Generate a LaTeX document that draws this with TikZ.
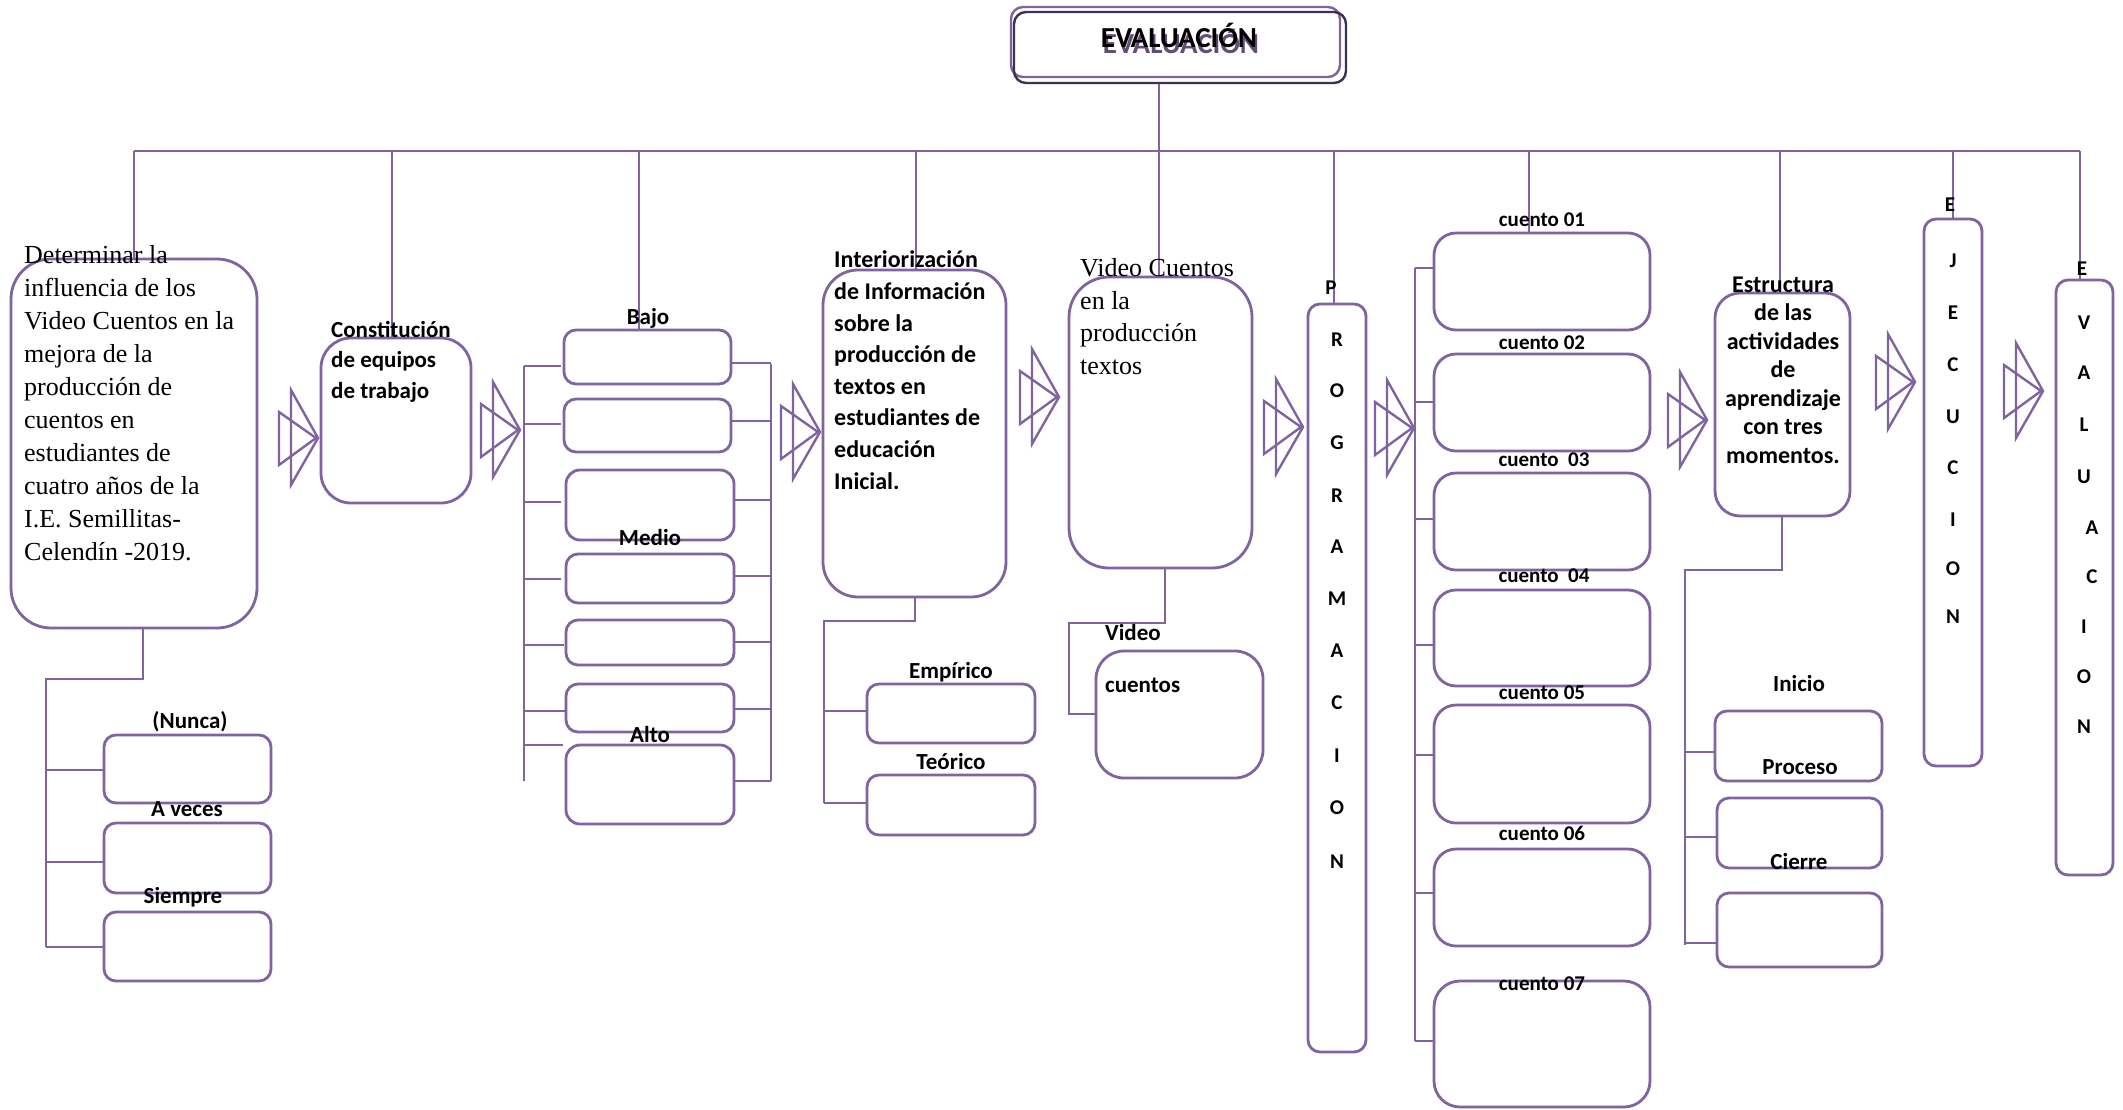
\documentclass[tikz,border=0pt]{standalone}
\usepackage{fontspec}
\setmainfont{Carlito}
\newfontfamily\tnr{Liberation Serif}
\usetikzlibrary{fit}
\definecolor{pur}{RGB}{128,100,162}
\definecolor{dpur}{RGB}{63,49,81}
\definecolor{shad}{RGB}{96,78,118}
\tikzset{
  ln/.style={draw=pur, line width=2.4pt},
  bx/.style={draw=pur, line width=2.8pt, inner sep=0pt, rounded corners=#1},
  bx/.default=12pt,
  lbl/.style={inner sep=0pt, font=\fontsize{23}{28}\selectfont\bfseries, anchor=base},
  clbl/.style={inner sep=0pt, font=\fontsize{21}{26}\selectfont\bfseries, anchor=base},
  vl/.style={inner sep=0pt, font=\fontsize{21}{25}\selectfont\bfseries},
  dtri/.pic={
    \draw[pur, line width=2.4pt] (-27,-48) -- (-27,47) -- (0,0) -- cycle;
    \draw[pur, line width=2.4pt] (-39,-26) -- (-39,27) -- (-2,0) -- cycle;}
}
\begin{document}
\begin{tikzpicture}[x=1pt,y=-1pt]
\fill[white] (0,0) rectangle (2123,1109);
\useasboundingbox (0,0) rectangle (2123,1109);

% title
\node[draw=pur, line width=2.4pt, rounded corners=12pt, inner sep=0pt, fit={(1011,7) (1340,77)}] (top1) {};
\node[draw=dpur, line width=2.4pt, rounded corners=12pt, inner sep=0pt, fit={(1014,12) (1346,83)}] (top) {};
\node[inner sep=0pt, anchor=base, text=shad, font=\fontsize{29}{34}\selectfont\bfseries] (titsh) at (1181,53) {EVALUACIÓN};
\node[inner sep=0pt, anchor=base, font=\fontsize{29}{34}\selectfont\bfseries] (tit) at (1179,47) {EVALUACIÓN};

% main boxes
\node[bx=40pt, fit={(11,259) (257,628)}] (det) {};
\node[bx=30pt, fit={(321,338) (471,503)}] (con) {};
\node[bx=12pt, fit={(564,330) (731,384)}] (b1) {};
\node[bx=12pt, fit={(564,399) (731,452)}] (b2) {};
\node[bx=14pt, fit={(566,470) (734,540)}] (b3) {};
\node[bx=12pt, fit={(566,554) (734,603)}] (b4) {};
\node[bx=12pt, fit={(566,620) (734,665)}] (b5) {};
\node[bx=12pt, fit={(566,684) (734,732)}] (b6) {};
\node[bx=14pt, fit={(566,745) (734,824)}] (b7) {};
\node[bx=35pt, fit={(823,270) (1006,597)}] (int) {};
\node[bx=12pt, fit={(867,684) (1035,743)}] (emp) {};
\node[bx=12pt, fit={(867,775) (1035,835)}] (teo) {};
\node[bx=40pt, fit={(1069,277) (1252,568)}] (vc) {};
\node[bx=28pt, fit={(1096,651) (1263,778)}] (vcs) {};
\node[bx=12pt, fit={(1308,304) (1366,1052)}] (prog) {};
\node[bx=22pt, fit={(1434,233) (1650,330)}] (c1) {};
\node[bx=22pt, fit={(1434,354) (1650,451)}] (c2) {};
\node[bx=22pt, fit={(1434,473) (1650,570)}] (c3) {};
\node[bx=22pt, fit={(1434,590) (1650,686)}] (c4) {};
\node[bx=22pt, fit={(1434,705) (1650,823)}] (c5) {};
\node[bx=22pt, fit={(1434,849) (1650,946)}] (c6) {};
\node[bx=26pt, fit={(1434,981) (1650,1107)}] (c7) {};
\node[bx=25pt, fit={(1715,293) (1850,516)}] (est) {};
\node[bx=12pt, fit={(1715,711) (1882,781)}] (ini) {};
\node[bx=12pt, fit={(1717,798) (1882,868)}] (pro) {};
\node[bx=12pt, fit={(1717,893) (1882,967)}] (cie) {};
\node[bx=12pt, fit={(1924,219) (1982,766)}] (eje) {};
\node[bx=12pt, fit={(2056,280) (2113,875)}] (eva) {};
\node[bx=12pt, fit={(104,735) (271,803)}] (nun) {};
\node[bx=12pt, fit={(104,823) (271,893)}] (ave) {};
\node[bx=12pt, fit={(104,912) (271,981)}] (sie) {};

% trunk
\coordinate (tl) at (134,151);
\coordinate (tr) at (2080,151);
\draw[ln] (top.south -| 1159,0) -- (1159,151);
\draw[ln] (tl) -- (tr);
\foreach \x/\n in {134/det, 392/con, 639/b1, 916/int, 1159/vc, 1334/prog, 1529/c1, 1780/est, 1953/eje, 2080/eva}
  \draw[ln] (\x,151) -- (\x,151 |- \n.north);

% determinar branches
\draw[ln] (det.south -| 143,0) -- (143,679) -- (46,679) -- (46,947);
\foreach \y/\n in {770/nun, 862/ave, 947/sie}
  \draw[ln] (46,\y) -- (\n.west |- 46,\y);

% bajo/medio/alto buses
\draw[ln] (524,366) -- (524,781);
\foreach \y/\xe in {366/561, 424/561, 502/561, 579/561, 645/564, 711/566, 745/563}
  \draw[ln] (524,\y) -- (\xe,\y);
\draw[ln] (771,364) -- (771,781);
\foreach \y/\n in {363/b1, 421/b2, 500/b3, 576/b4, 642/b5, 709/b6, 781/b7}
  \draw[ln] (\n.east |- 0,\y) -- (771,\y);

% interiorizacion branches
\draw[ln] (int.south -| 915,0) -- (915,621) -- (824,621) -- (824,803);
\draw[ln] (824,711) -- (emp.west |- 0,711);
\draw[ln] (824,803) -- (teo.west |- 0,803);

% video cuentos branch
\draw[ln] (vc.south -| 1165,0) -- (1165,623) -- (1069,623) -- (1069,714) -- (vcs.west |- 0,714);

% cuentos bus
\draw[ln] (1415,268) -- (1415,1041);
\foreach \y/\n in {268/c1, 402/c2, 519/c3, 645/c4, 755/c5, 893/c6, 1041/c7}
  \draw[ln] (1415,\y) -- (\n.west |- 0,\y);

% estructura branches
\draw[ln] (est.south -| 1782,0) -- (1782,570) -- (1685,570) -- (1685,945);
\foreach \y/\n in {752/ini, 837/pro, 943/cie}
  \draw[ln] (1685,\y) -- (\n.west |- 0,\y);

% double triangle arrows
\foreach \ax/\ay [count=\i] in {318/438, 520/430, 820/432, 1059/397, 1303/427, 1414/428, 1707/420, 1915/382, 2043/391}
  \pic (ar\i) at (\ax,\ay) {dtri};

% texts (anchor = baseline of the last line)
\node[anchor=base west, inner sep=0pt, align=left, font=\tnr\fontsize{26}{33}\selectfont] (dett) at (24,560)
  {Determinar la\\influencia de los\\Video Cuentos en la\\mejora de la\\producción de\\cuentos en\\estudiantes de\\cuatro años de la\\I.E. Semillitas-\\Celendín -2019.};
\node[anchor=base west, inner sep=0pt, align=left, font=\fontsize{23}{30.5}\selectfont\bfseries] (cont) at (331,398)
  {Constitución\\de equipos\\de trabajo};
\node[anchor=base west, inner sep=0pt, align=left, font=\fontsize{24}{31.6}\selectfont\bfseries] (intt) at (834,489)
  {Interiorización\\de Información\\sobre la\\producción de\\textos en\\estudiantes de\\educación\\Inicial.};
\node[anchor=base west, inner sep=0pt, align=left, font=\tnr\fontsize{26}{32.4}\selectfont] (vct) at (1080,374)
  {Video Cuentos\\en la\\producción\\textos};
\node[anchor=base west, inner sep=0pt, align=left, font=\fontsize{23}{52}\selectfont\bfseries] (vcst) at (1105,692)
  {Video\\cuentos};
\node[anchor=base, inner sep=0pt, align=center, font=\fontsize{24}{28.5}\selectfont\bfseries] (estt) at (1783,463)
  {Estructura\\de las\\actividades\\de\\aprendizaje\\con tres\\momentos.};

\node[lbl] (lnun) at (190,728) {(Nunca)};
\node[lbl] (lave) at (187,816) {A veces};
\node[lbl] (lsie) at (183,903) {Siempre};
\node[lbl] (lbaj) at (648,324) {Bajo};
\node[lbl] (lmed) at (650,545) {Medio};
\node[lbl] (lalt) at (650,742) {Alto};
\node[lbl] (lemp) at (951,678) {Empírico};
\node[lbl] (lteo) at (951,769) {Teórico};
\node[clbl] (lc1) at (1542,226) {cuento 01};
\node[clbl] (lc2) at (1542,349) {cuento 02};
\node[clbl] (lc3) at (1544,466) {cuento~~03};
\node[clbl] (lc4) at (1544,582) {cuento~~04};
\node[clbl] (lc5) at (1542,699) {cuento 05};
\node[clbl] (lc6) at (1542,840) {cuento 06};
\node[clbl] (lc7) at (1542,990) {cuento 07};
\node[lbl] (lini) at (1799,691) {Inicio};
\node[lbl] (lpro) at (1800,774) {Proceso};
\node[lbl] (lcie) at (1799,869) {Cierre};

% vertical letters
\foreach \l/\xx/\yy [count=\i] in {P/1331/288, R/1337/340, O/1337/391, G/1337/443, R/1337/496, A/1337/547, M/1337/599, A/1337/651, C/1337/703, I/1337/756, O/1337/808, N/1337/862}
  \node[vl] (pg\i) at (\xx,\yy) {\l};
\foreach \l/\xx/\yy [count=\i] in {E/1950/205, J/1953/261, E/1953/313, C/1953/365, U/1953/417, C/1953/468, I/1953/520, O/1953/569, N/1953/617}
  \node[vl] (ej\i) at (\xx,\yy) {\l};
\foreach \l/\xx/\yy [count=\i] in {E/2082/269, V/2084/323, A/2084/373, L/2084/425, U/2084/477, A/2092/528, C/2092/577, I/2084/627, O/2084/677, N/2084/727}
  \node[vl] (ev\i) at (\xx,\yy) {\l};
\end{tikzpicture}
\end{document}
